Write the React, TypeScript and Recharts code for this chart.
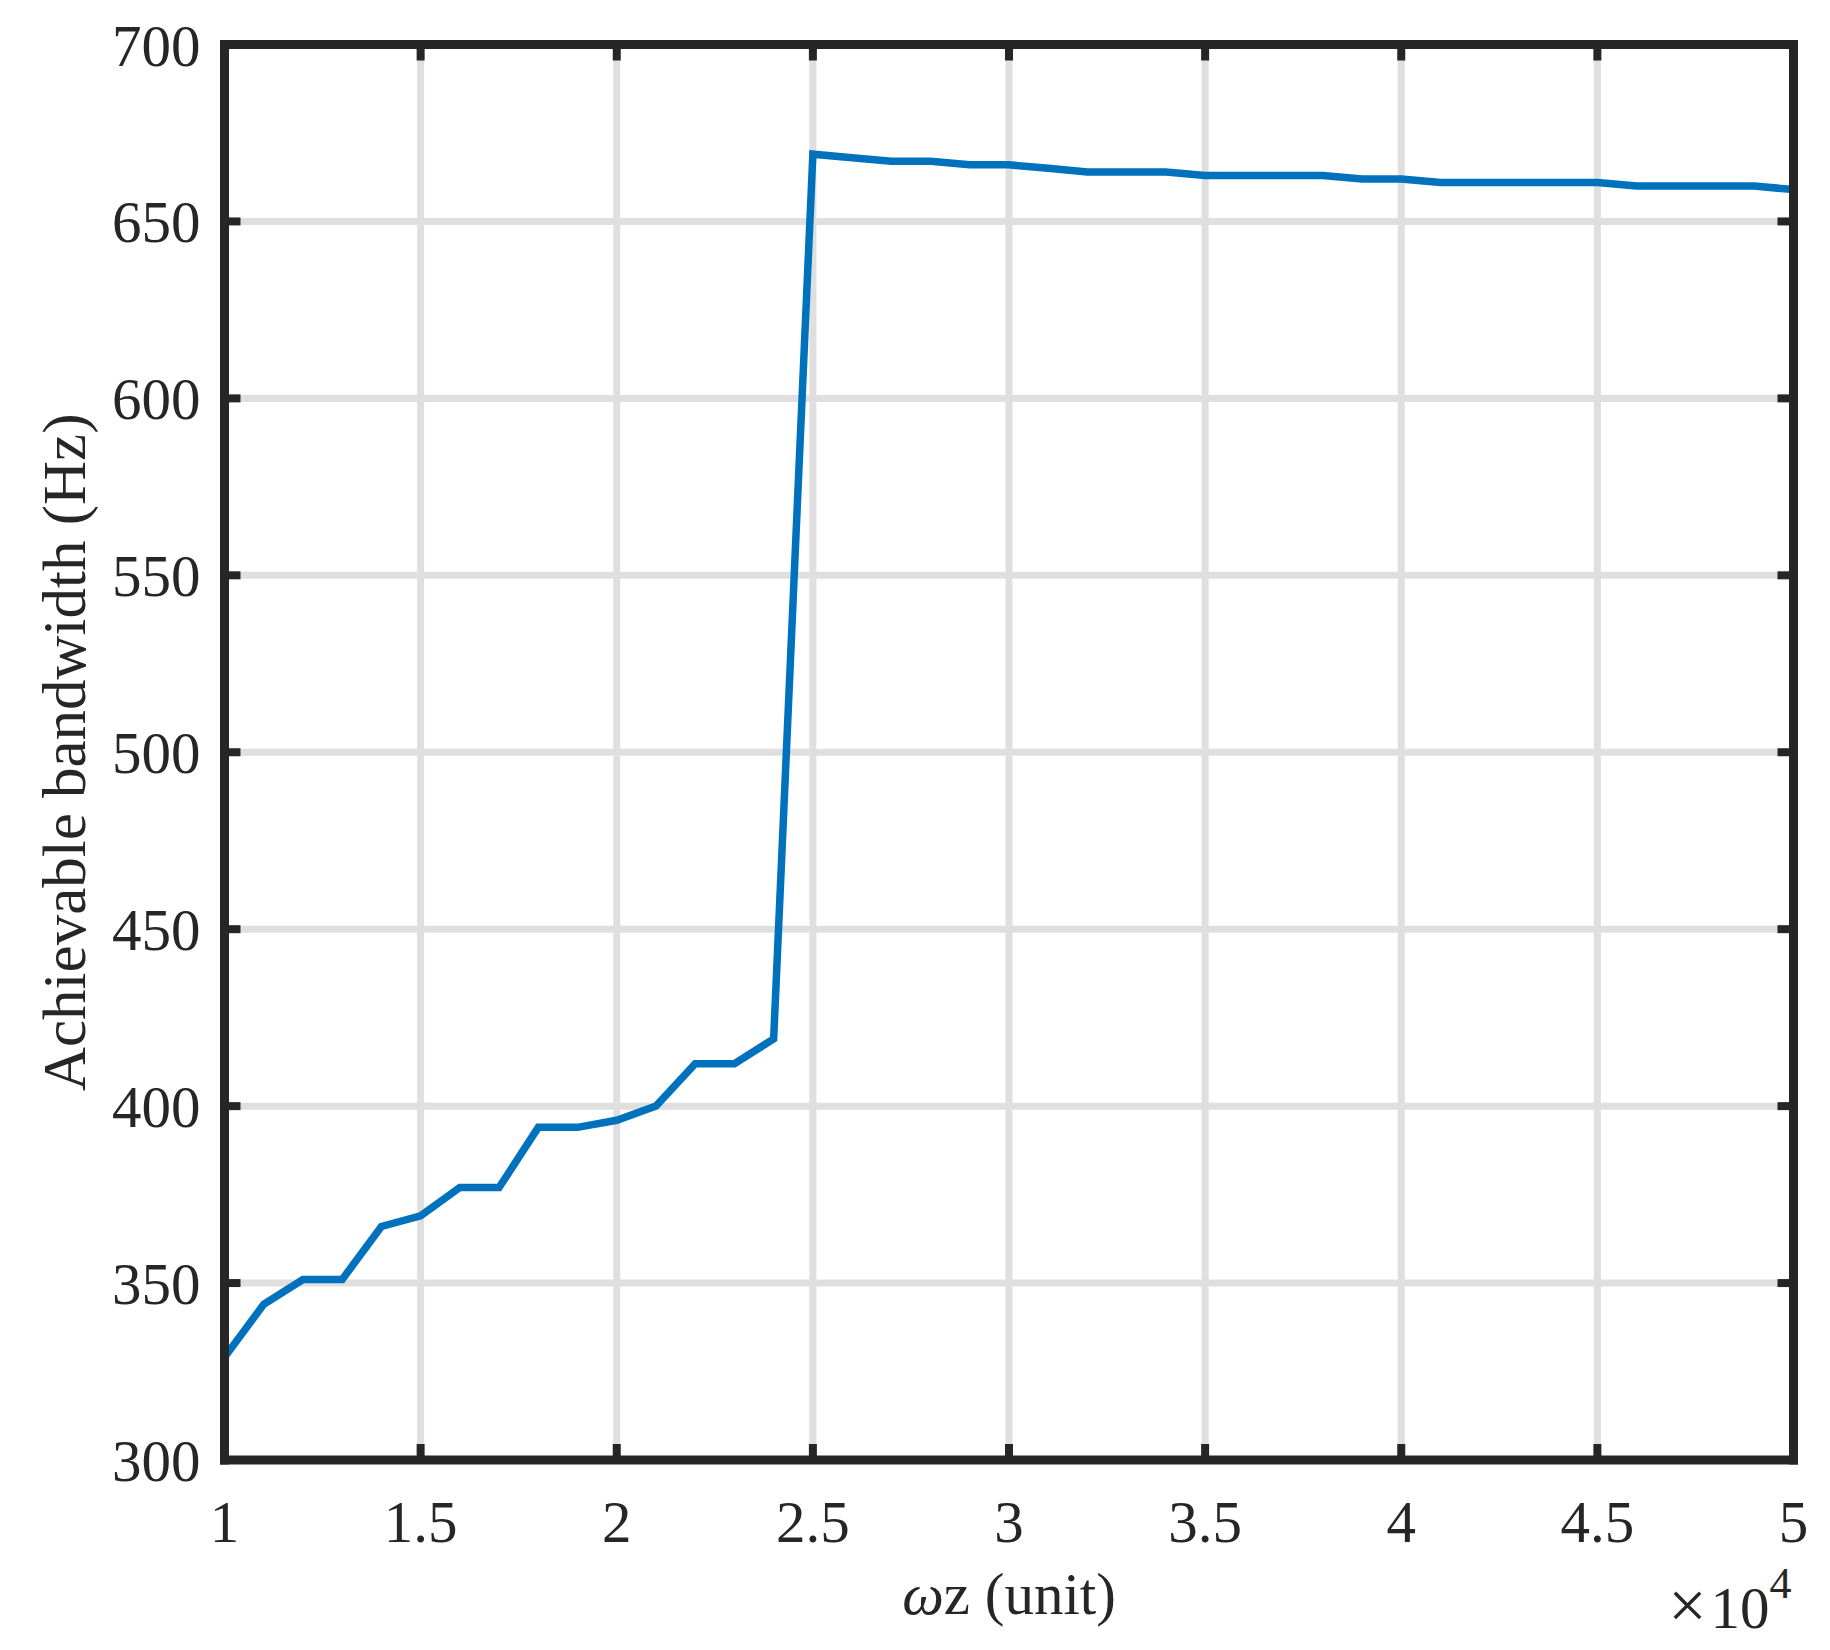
import { LineChart, Line, XAxis, YAxis, CartesianGrid } from "recharts";

// ωz sweep (unit), 1e4 .. 5e4 in steps of 1000
const OMEGA_Z = [
  10000, 11000, 12000, 13000, 14000, 15000, 16000, 17000, 18000, 19000,
  20000, 21000, 22000, 23000, 24000, 25000, 26000, 27000, 28000, 29000,
  30000, 31000, 32000, 33000, 34000, 35000, 36000, 37000, 38000, 39000,
  40000, 41000, 42000, 43000, 44000, 45000, 46000, 47000, 48000, 49000,
  50000,
];

// achievable bandwidth (Hz)
const BANDWIDTH = [
  329, 344, 351, 351, 366, 369, 377, 377, 394, 394,
  396, 400, 412, 412, 419, 669, 668, 667, 667, 666,
  666, 665, 664, 664, 664, 663, 663, 663, 663, 662,
  662, 661, 661, 661, 661, 661, 660, 660, 660, 660,
  659,
];

const X_TICKS = [10000, 15000, 20000, 25000, 30000, 35000, 40000, 45000, 50000];
const Y_TICKS = [300, 350, 400, 450, 500, 550, 600, 650, 700];

const rows = OMEGA_Z.map((wz, i) => ({ wz, bw: BANDWIDTH[i] }));

const FONT = '"Liberation Serif", "Times New Roman", Times, serif';
const INK = "#262626";
const TICK_LEN = 16;
const FS = 59;

// MATLAB style: ticks point inward, so the line is drawn inside the tick renderer
function BottomTick(props: any) {
  const { x, y, payload } = props;
  return (
    <g>
      <line x1={x} y1={y} x2={x} y2={y - TICK_LEN} stroke={INK} strokeWidth={8} />
      <text x={x} y={y + 82} textAnchor="middle" fontFamily={FONT} fontSize={FS} fill={INK}>
        {String(payload.value / 10000)}
      </text>
    </g>
  );
}

function TopTick(props: any) {
  const { x, y } = props;
  return <line x1={x} y1={y} x2={x} y2={y + TICK_LEN} stroke={INK} strokeWidth={8} />;
}

function LeftTick(props: any) {
  const { x, y, payload } = props;
  return (
    <g>
      <line x1={x} y1={y} x2={x + TICK_LEN} y2={y} stroke={INK} strokeWidth={8} />
      <text x={x - 24} y={y + 21} textAnchor="end" fontFamily={FONT} fontSize={FS} fill={INK}>
        {String(payload.value)}
      </text>
    </g>
  );
}

function RightTick(props: any) {
  const { x, y } = props;
  return <line x1={x} y1={y} x2={x - TICK_LEN} y2={y} stroke={INK} strokeWidth={8} />;
}

function XLabel(props: any) {
  const vb = props.viewBox || {};
  const cx = vb.x + vb.width / 2;
  const right = vb.x + vb.width;
  return (
    <g>
      <text x={cx} y={vb.y + 154} textAnchor="middle" fontFamily={FONT} fontSize={FS} fill={INK}>
        <tspan fontStyle="italic">ω</tspan>z (unit)
      </text>
      <text x={right - 2} y={vb.y + 168} textAnchor="end" fontFamily={FONT} fontSize={FS} fill={INK}>
        <tspan fontSize={68}>×</tspan>
        <tspan dx={4}>10</tspan>
        <tspan fontSize={44} dy={-30}>4</tspan>
      </text>
    </g>
  );
}

function YLabel(props: any) {
  const vb = props.viewBox || {};
  const cy = vb.y + vb.height / 2;
  const x = 56;
  return (
    <text
      x={x}
      y={cy}
      transform={`rotate(-90 ${x} ${cy})`}
      textAnchor="middle"
      dominantBaseline="central"
      fontFamily={FONT}
      fontSize={61}
      fill={INK}
    >
      Achievable bandwidth (Hz)
    </text>
  );
}

const frame = { stroke: INK, strokeWidth: 9, strokeLinecap: "square" as const };

export default function App() {
  return (
    <div style={{ width: 1814, height: 1634, background: "#fff" }}>
      <LineChart
        width={1814}
        height={1634}
        data={rows}
        margin={{ top: 35.5, right: 27.5, left: 0, bottom: 0 }}
      >
        <CartesianGrid stroke="#dfdfdf" strokeWidth={7} />
        <XAxis
          dataKey="wz"
          type="number"
          domain={[10000, 50000]}
          ticks={X_TICKS}
          allowDataOverflow
          height={182}
          tickSize={0}
          tickMargin={0}
          tickLine={false}
          axisLine={frame}
          tick={<BottomTick />}
          interval={0}
          label={<XLabel />}
        />
        <XAxis
          xAxisId="top"
          orientation="top"
          dataKey="wz"
          type="number"
          domain={[10000, 50000]}
          ticks={X_TICKS}
          allowDataOverflow
          height={1}
          tickSize={0}
          tickMargin={0}
          tickLine={false}
          axisLine={frame}
          tick={<TopTick />}
          interval={0}
        />
        <YAxis
          type="number"
          domain={[300, 700]}
          ticks={Y_TICKS}
          allowDataOverflow
          width={216.5}
          tickSize={0}
          tickMargin={0}
          tickLine={false}
          axisLine={frame}
          tick={<LeftTick />}
          interval={0}
          label={<YLabel />}
        />
        <YAxis
          yAxisId="right"
          orientation="right"
          type="number"
          domain={[300, 700]}
          ticks={Y_TICKS}
          allowDataOverflow
          width={1}
          tickSize={0}
          tickMargin={0}
          tickLine={false}
          axisLine={frame}
          tick={<RightTick />}
          interval={0}
        />
        <Line
          dataKey="bw"
          type="linear"
          stroke="#0072BD"
          strokeWidth={7.5}
          dot={false}
          activeDot={false}
          isAnimationActive={false}
        />
      </LineChart>
    </div>
  );
}
